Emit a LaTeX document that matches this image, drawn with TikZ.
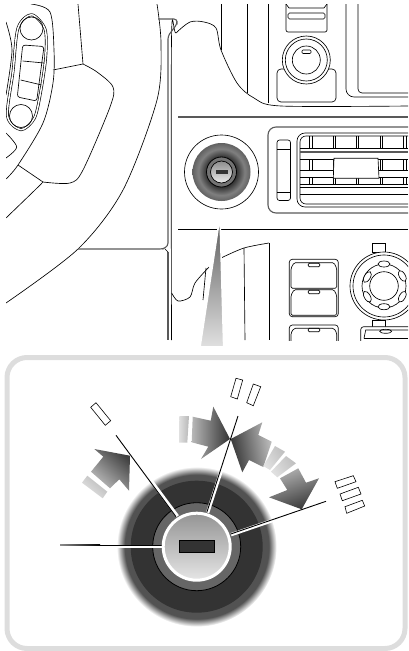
\documentclass[tikz,border=0pt]{standalone}
\usetikzlibrary{arrows.meta,positioning}
\definecolor{panelgray}{HTML}{DDDDDD}
\definecolor{discdark}{HTML}{333333}
\definecolor{ringgray}{HTML}{666666}
\pgfdeclareradialshading{halo}{\pgfpoint{0bp}{0bp}}{color(0bp)=(black!68); color(22.5bp)=(black!68); color(25bp)=(white); color(50bp)=(white)}
\pgfdeclareradialshading{smalldisc}{\pgfpoint{0bp}{0bp}}{color(0bp)=(discdark); color(13bp)=(discdark); color(20bp)=(black!50); color(25bp)=(black!62); color(50bp)=(black!62)}
\begin{document}
\begin{tikzpicture}[x=1pt,y=-1pt,
ln/.style={draw=black,line width=0.65pt},
gln/.style={draw=black!65,line width=1.1pt},
dbl/.style={draw=black,line width=0.65pt,double=white,double distance=1.5pt},
sw/.style={ln,fill=white,rounded corners=1.5pt},
tag/.style={draw=black,line width=0.6pt,fill=white},
rim/.style={draw=white,line width=3.4pt},
ptr/.style={draw=black,line width=0.9pt}]
\useasboundingbox (0,0) rectangle (408,651);
\begin{scope}
\clip (6,4) rectangle (408,340);
% wheel
\draw[ln] plot[smooth] coordinates {(157,4) (161,43) (157,100) (123,190) (78,249) (6,303)};
\draw[ln] plot[smooth] coordinates {(31,4) (50,12) (54,50) (53,83) (43,123) (18,165) (6,179)};
\draw[ln] plot[smooth] coordinates {(43,182) (35,190) (6,218)};
\draw[ln] (78,4) -- (83,64) -- (53,70);
\draw[ln] plot[smooth] coordinates {(83,64) (97,72) (113,87) (110,107) (83,170) (70,183) (43,182)};
\draw[ln] (18,165) -- (43,182);
\draw[ln] plot[smooth] coordinates {(6,22) (12,50) (6,95)};
\draw[ln] plot[smooth] coordinates {(6,133) (16.7,147) (6,158)};
\draw[dbl] plot[smooth cycle] coordinates {(31.5,14.7) (45,29) (45.7,57) (41,90) (34.5,118) (21,129.7) (7.5,116) (13,72) (18,28)};
\draw[ln] (31.5,28.5) circle[radius=11.5];
\draw[ln] (21,116) circle[radius=11.5];
\draw[ln,rounded corners=2.5pt] (22.7,45) -- (44,46.5) -- (36.7,101) -- (17.3,97) -- cycle;
\draw[ln] (22.7,61) -- (44,63);
\draw[ln] (20.7,80) -- (41.7,85);
% dash frame
\draw[ln] plot[smooth] coordinates {(171.5,340) (171.5,40) (176,33) (190,22) (204,22) (216,28) (221,50) (237,83) (254,98) (281,106) (408,106)};
\draw[gln,rounded corners=3pt] (158,19) -- (177,19) -- (177,24) -- (168,36) -- (168,246) -- (163,249) -- (78,249);
\draw[gln] (168,252) -- (168,340);
\draw[ln] (165,249) -- (168,252);
\draw[gln] (178,117) -- (408,117);
\draw[ln] (178,229) -- (408,229);
\draw[ln] (221,4) -- (221,50);
\draw[ln] (247,4) -- (247,93);
\draw[ln] (268,4) -- (268,103);
\draw[ln,rounded corners=8pt] (346,4) -- (346,97) -- (408,97);
\draw[ln,rounded corners=4pt] (358,4) -- (358,93) -- (408,93);
% top switch and knob
\draw[ln,rounded corners=2pt] (286,4) -- (286,32) -- (327,32) -- (327,4);
\draw[ln] (286,4) -- (289,8) -- (324,8) -- (327,4);
\draw[ln,rounded corners=1.5pt] (288,13) rectangle (325,19);
\draw[ln,rounded corners=4pt] (277,69) rectangle (336,102);
\draw[ln,fill=white] (306.3,60) circle[radius=24];
\draw[ln] (306.3,60) circle[radius=21];
\draw[ln] (306.3,60) circle[radius=14];
\draw[ln,rounded corners=1pt] (302,50) rectangle (311,53.5);
% vent
\draw[gln,rounded corners=8pt] (408,127) -- (268,127) -- (268,213) -- (408,213);
\draw[ln,rounded corners=2.5pt] (277,140) rectangle (290.5,200.5);
\draw[ln] (277,149.5) -- (290.5,149.5);
\draw[ln] (277,192) -- (290.5,192);
\draw[ln,rounded corners=8pt] (408,133) -- (297,133) -- (297,207) -- (408,207);
\draw[ln,rounded corners=6pt] (408,136) -- (300,136) -- (300,204) -- (408,204);
\foreach \vy in {148,159,170,177,184,187,194} {\draw[ln] (300,\vy) -- (408,\vy);}
\draw[gln] (300,152) -- (408,152);
\foreach \vx/\wx in {309/312,333/335,356.5/358.5,380.5/382.5,403/406} {
\foreach \ya/\yb in {136/148,159/170,177/184} {
\draw[ln] (\vx,\ya) -- (\vx,\yb);
\draw[ln] (\wx,\ya) -- (\wx,\yb);
}}
\draw[ln,fill=white] (334,158.3) -- (378,158.3) -- (379,178.3) -- (333.3,178.3) -- cycle;
% small lock
\draw[ln] (221.5,172) circle[radius=37];
\shade[shading=smalldisc] (221.5,172) circle[radius=29];
\draw[black,line width=0.8pt,fill=black!55] (221.5,172) circle[radius=15];
\draw[black,line width=0.7pt,shading=axis,top color=black!45,bottom color=black!8] (221.5,172) circle[radius=11];
\fill[discdark] (216,170) rectangle (227.7,174.3);
% lower console
\draw[ln] plot[smooth] coordinates {(221,258) (244,248) (269,243)};
\draw[ln] (269.5,243) -- (269.5,340);
\draw[ln] (244,248) -- (245,340);
\draw[ln] plot[smooth] coordinates {(171.7,293) (178,301) (190,297) (195,283) (209,267)};
\draw[ln] (206,268) -- (203,300);
\draw[ln,rounded corners=3pt] (289.3,259.3) rectangle (338.3,316.7);
\foreach \sy in {0,27} {
\draw[sw] (291,{268.3+\sy}) -- (294,{262.7+\sy}) -- (334,{262.7+\sy}) -- (336.7,{268.3+\sy}) -- (336.7,{288.3+\sy}) -- (291,{288.3+\sy}) -- cycle;
\draw[ln,rounded corners=1pt] (308.3,{263.3+\sy}) rectangle (319.7,{266.7+\sy});
}
\draw[ln,rounded corners=3pt] (289.3,350) -- (289.3,325) -- (338.3,325) -- (338.3,350);
\draw[ln,rounded corners=1.5pt] (291,350) -- (291,333) -- (294,328.3) -- (334,328.3) -- (336.7,333) -- (336.7,350);
\draw[ln,rounded corners=1pt] (308.3,328.3) rectangle (319.7,331.7);
% joystick
\draw[ln] (372.5,243) rectangle (385,252);
\draw[ln] (372.5,320) rectangle (385,327);
\draw[ln,fill=white] (384,286) circle[radius=34];
\draw[ln] (384,286) circle[radius=31];
\draw[ln] (384,286) circle[radius=22];
\foreach \ox/\oy/\oa in {384/264/0,384/306.7/0,367.3/277/60,367.3/296.7/-60,402.3/276/-60,402.3/296.7/60} {
\draw[ln,fill=white,rotate around={\oa:(\ox,\oy)}] (\ox,\oy) ellipse[x radius=6,y radius=3];
}
\draw[ln] (384,286) circle[radius=14.3];
\draw[ln,fill=white,rounded corners=3pt] (360.7,350) -- (360.7,326.7) -- (420,326.7) -- (420,350);
\draw[ln] (364,338.3) -- (365.7,330) -- (408,330);
\draw[ln] (364,338.3) -- (408,338.3);
\draw[ln] (385.7,331.3) ellipse[x radius=6,y radius=2];
\end{scope}
% pointer wedge
\shade[draw=white,line width=1.6pt,shading=axis,top color=black!65,bottom color=black!12] (220,216) -- (223.7,347) -- (200,347) -- cycle;
% inset frame
\draw[panelgray,line width=5pt,rounded corners=20pt] (7,357.5) rectangle (405,648.5);
% big lock
\shade[shading=halo] (196.7,546.7) circle[radius=80];
\fill[discdark] (196.7,546.7) circle[radius=66];
\draw[black,line width=0.8pt,fill=ringgray] (196.7,546.7) circle[radius=44];
% pointers
\draw[rim] (60,546.3) -- (165,546.3);
\draw[rim] (117,435) -- (177.5,516.2);
\draw[rim] (239,416.3) -- (207.5,513);
\draw[rim] (326.5,502) -- (231,534.7);
\fill[left color=black!45,right color=black] (60,544.6) rectangle (100,545.6);
\draw[ptr] (100,545) -- (163,545);
\draw[ptr] (116,435.3) -- (176,516.7);
\draw[ptr] (238,416) -- (206.7,512.7);
\draw[ptr] (326,501.3) -- (230.7,534);
\draw[white,line width=3pt,shading=axis,top color=black!42,bottom color=black!10] (196.7,546.7) circle[radius=33.5];
\fill[discdark] (179.3,540) rectangle (214.3,552.7);
\draw[black,line width=0.5pt] (179.3,540) rectangle (214.3,552.7);
% turn arrows
\shade[shading=axis,top color=black!75,bottom color=black!25,shading angle=-42] (130,455.7) -- (94.3,449) -- (103.3,456.7) -- (91,471.7) -- (110,488.3) -- (119.3,479.3) -- (129,490.7) -- cycle;
\shade[shading=axis,top color=black!28,bottom color=black!10,shading angle=-42] (87.3,475.7) -- (107.3,491.7) -- (102.7,498.3) -- (82,482.7) -- cycle;
\shade[shading=axis,top color=black!80,bottom color=black!28,shading angle=-90] (230,439) -- (213.3,406.7) -- (210.7,420.7) -- (192.7,416.7) -- (191.7,442.3) -- (208.3,446.7) -- (201,459) -- cycle;
\shade[shading=axis,top color=black!28,bottom color=black!12,shading angle=-90] (179.3,416) -- (189,416) -- (187.3,442.7) -- (179,442.7) -- cycle;
\shade[shading=axis,top color=black!80,bottom color=black!25,shading angle=100] (230.7,439) -- (262.3,422.3) -- (258.3,435) -- (271.7,441.7) -- (263.3,467) -- (249,460) -- (242.3,472.3) -- cycle;
\shade[shading=axis,top color=black!25,bottom color=black!12,shading angle=-60] (275,446) -- (285,451.7) -- (270,470) -- (263.3,466) -- cycle;
\shade[shading=axis,top color=black!25,bottom color=black!12,shading angle=-60] (286,456) -- (296,463.3) -- (277.3,477.3) -- (271,471.7) -- cycle;
\shade[shading=axis,top color=black!30,bottom color=black!78,shading angle=20] (280,478.3) -- (298.3,468.3) -- (306,482.7) -- (319,478.3) -- (301.7,509.3) -- (269,497.3) -- (287.3,490) -- cycle;
% position tags
\draw[tag] (90.7,407.3) -- (96,402.7) -- (110.7,420.7) -- (105.3,425.3) -- cycle;
\draw[tag] (236,378.3) -- (242.7,380) -- (237.3,399) -- (230.7,396.7) -- cycle;
\draw[tag] (253.3,384) -- (260.7,386.7) -- (253.3,405.7) -- (246.7,402.7) -- cycle;
\draw[tag] (335,481.7) -- (353.3,475.7) -- (356,481.7) -- (337.3,488.3) -- cycle;
\draw[tag] (340,494) -- (358.3,487.3) -- (361,494) -- (342.3,500.7) -- cycle;
\draw[tag] (345,506.7) -- (362.3,500.3) -- (364.7,506) -- (346.7,513.3) -- cycle;
\end{tikzpicture}
\end{document}
